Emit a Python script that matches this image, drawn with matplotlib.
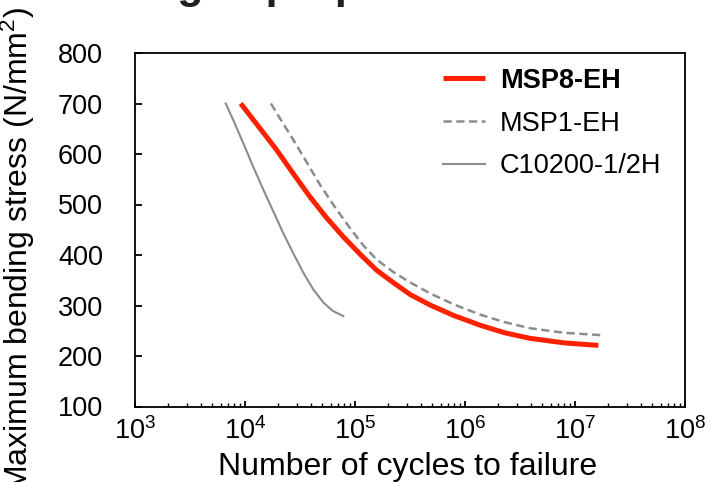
import numpy as np
import matplotlib
matplotlib.use("Agg")
import matplotlib.pyplot as plt
from matplotlib.ticker import LogLocator, NullFormatter

plt.rcParams['font.family'] = ['Liberation Sans', 'DejaVu Sans']
plt.rcParams['mathtext.fontset'] = 'custom'
plt.rcParams['mathtext.rm'] = 'Liberation Sans'
plt.rcParams['mathtext.it'] = 'Liberation Sans:italic'
plt.rcParams['mathtext.bf'] = 'Liberation Sans:bold'

# S-N curves (cycles, stress N/mm2)
msp8_cycles = [9140, 19400, 27500, 39000, 55000, 78300, 112000, 157000, 224000, 316000,
               481000, 794000, 1370000, 2290000, 3900000, 7940000, 16300000]
msp8_stress = [700, 608, 561, 515, 474, 436, 401, 370, 345, 322,
               301, 280, 261, 246, 235, 226, 221]

msp1_cycles = [17200, 21400, 27500, 36300, 48100, 66100, 90200, 118000, 157000, 224000,
               316000, 481000, 794000, 1370000, 2290000, 3900000, 7940000, 18100000]
msp1_stress = [700, 666, 628, 584, 539, 494, 453, 420, 391, 366,
               346, 324, 302, 282, 267, 255, 246, 241]

c10200_cycles = [6680, 7940, 9660, 11750, 14700, 18200, 22300, 27500, 33900, 41700,
                 51500, 63100, 78300]
c10200_stress = [700, 664, 621, 577, 529, 485, 443, 403, 365, 332,
                 306, 289, 279]

labels = ['MSP8-EH', 'MSP1-EH', 'C10200-1/2H']
y_ticks = [100, 200, 300, 400, 500, 600, 700, 800]

W, H = 723, 482
fig = plt.figure(figsize=(W / 100, H / 100), dpi=100)
ax = fig.add_axes([135 / W, 1 - 406.5 / H, 550 / W, 353.5 / H])

gray = '#8c8c8c'
ax.plot(msp8_cycles, msp8_stress, color='#ff2000', lw=3.6, label=labels[0],
        solid_capstyle='butt', solid_joinstyle='round')
ax.plot(msp1_cycles, msp1_stress, color=gray, lw=1.8, ls=(0, (3.3, 1.8)), label=labels[1])
ax.plot(c10200_cycles, c10200_stress, color=gray, lw=1.5, label=labels[2],
        solid_joinstyle='round')

ax.set_xscale('log')
ax.set_xlim(1e3, 1e8)
ax.set_ylim(100, 800)
ax.set_yticks(y_ticks)
ax.xaxis.set_major_locator(LogLocator(base=10, numticks=20))
ax.xaxis.set_minor_locator(LogLocator(base=10, subs=np.arange(2, 10), numticks=100))
ax.xaxis.set_minor_formatter(NullFormatter())

for s in ax.spines.values():
    s.set_linewidth(1.3)
ax.tick_params(axis='y', which='major', direction='in', length=5, width=1.3,
               labelsize=19.5, pad=23)
ax.tick_params(axis='x', which='major', direction='in', length=4, width=1.3,
               labelsize=19.5, pad=8)
ax.tick_params(axis='x', which='minor', direction='in', length=3, width=1.0)

leg = ax.legend(loc='upper left', bbox_to_anchor=(0.56, 0.958), frameon=False,
                fontsize=19.5, handlelength=1.55, handletextpad=0.55,
                labelspacing=0.62, borderpad=0, borderaxespad=0)
leg.get_texts()[0].set_fontweight('bold')

fig.text(101 / W, 1 + 2 / H, 'Fatigue properties', fontsize=31, fontweight='bold',
         color='#231f20', ha='left', va='baseline')
fig.text(18 / W, 1 - 250 / H, 'Maximum bending stress (N/mm$^2$)', fontsize=23,
         rotation=90, ha='center', va='center')
fig.text(408 / W, 1 - 467 / H, 'Number of cycles to failure', fontsize=23,
         ha='center', va='center')

fig.savefig('out.png', dpi=100)
